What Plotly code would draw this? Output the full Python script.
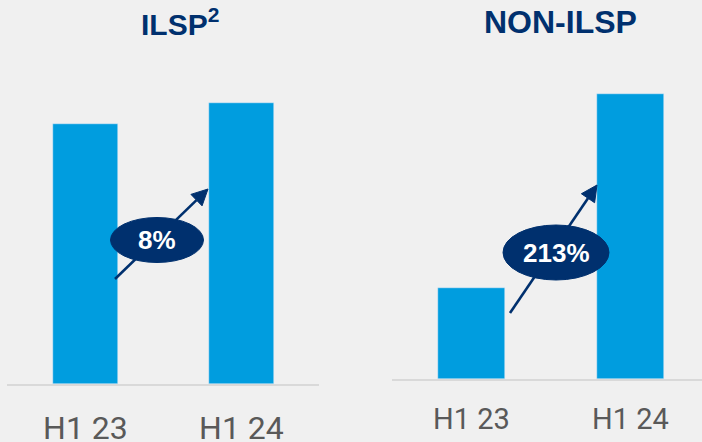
import plotly.graph_objects as go

W, H = 702, 442

# ---- data ----
periods = ["H1 23", "H1 24"]
ilsp_values = [100, 108]        # indexed, H1 23 = 100
non_ilsp_values = [100, 313]    # indexed, H1 23 = 100
ilsp_growth = "8%"
non_ilsp_growth = "213%"
titles = ["ILSP<sup>2</sup>", "NON-ILSP"]

BLUE = "#009ddf"
NAVY = "#00306e"
BG = "#f0f0f0"
GREY_TXT = "#595959"
AXIS = "#d9d9d9"


def px(x):
    return x / W


def py(y):
    return 1 - y / H


fig = go.Figure()
fig.add_trace(go.Bar(x=[0, 1], y=ilsp_values, width=0.417, marker_color=BLUE,
                     xaxis="x", yaxis="y", hoverinfo="skip"))
fig.add_trace(go.Bar(x=[0, 1], y=non_ilsp_values, width=0.42, marker_color=BLUE,
                     xaxis="x2", yaxis="y2", hoverinfo="skip"))

common_x = dict(tickmode="array", tickvals=[0, 1], ticktext=periods, showgrid=False,
                zeroline=False, showline=True, linecolor=AXIS, linewidth=2, ticks="",
                fixedrange=True, automargin=False)
common_y = dict(visible=False, showgrid=False, zeroline=False, fixedrange=True,
                automargin=False)

fig.update_layout(
    width=W, height=H, margin=dict(l=0, r=0, t=0, b=0),
    paper_bgcolor=BG, plot_bgcolor=BG, showlegend=False, bargap=0,
    xaxis=dict(domain=[px(7), px(319)], range=[-0.503, 1.497],
               tickfont=dict(family="Roboto", size=32, color=GREY_TXT),
               ticklabelstandoff=15, **common_x),
    yaxis=dict(domain=[py(384), py(60)], range=[0, 124.6], **common_y),
    xaxis2=dict(domain=[px(392), px(702)], range=[-0.5, 1.45], anchor="y2",
                tickfont=dict(family="Roboto", size=29, color=GREY_TXT),
                ticklabelstandoff=13, **common_x),
    yaxis2=dict(domain=[py(379), py(60)], range=[0, 350.5], anchor="x2", **common_y),
)

# ---- growth arrows with ellipse badges ----
def arrow(tail, tip, head_len=16, head_half=8):
    (x0, y0), (x1, y1) = tail, tip
    dx, dy = x1 - x0, y1 - y0
    L = (dx * dx + dy * dy) ** 0.5
    ux, uy = dx / L, dy / L
    bx, by = x1 - ux * head_len, y1 - uy * head_len
    nx, ny = -uy, ux
    fig.add_shape(type="line", xref="paper", yref="paper",
                  x0=px(x0), y0=py(y0), x1=px(bx), y1=py(by),
                  line=dict(color=NAVY, width=2.6))
    pts = [(x1, y1), (bx + nx * head_half, by + ny * head_half),
           (bx - nx * head_half, by - ny * head_half)]
    path = "M " + " L ".join(f"{px(a):.5f},{py(b):.5f}" for a, b in pts) + " Z"
    fig.add_shape(type="path", xref="paper", yref="paper", path=path,
                  fillcolor=NAVY, line=dict(color=NAVY, width=1))


def badge(cx, cy, w, h, text):
    fig.add_shape(type="circle", xref="paper", yref="paper",
                  x0=px(cx - w / 2), x1=px(cx + w / 2),
                  y0=py(cy + h / 2), y1=py(cy - h / 2),
                  fillcolor=NAVY, line=dict(color=NAVY, width=1))
    fig.add_annotation(x=px(cx), y=py(cy), xref="paper", yref="paper", text=text,
                       showarrow=False, xanchor="center", yanchor="middle",
                       font=dict(family="Liberation Sans, Arial", size=26,
                                 color="white", weight=700))


arrow((115, 279), (208, 189))
badge(157, 240, 93, 45, ilsp_growth)
arrow((510, 313), (597, 185))
badge(556, 252.5, 106, 55, non_ilsp_growth)

# ---- panel titles ----
fig.add_annotation(x=px(180), y=py(22), xref="paper", yref="paper", text=titles[0],
                   showarrow=False, xanchor="center", yanchor="middle",
                   font=dict(family="Liberation Sans, Arial", size=30, color=NAVY, weight=700))
fig.add_annotation(x=px(560), y=py(22), xref="paper", yref="paper", text=titles[1],
                   showarrow=False, xanchor="center", yanchor="middle",
                   font=dict(family="Liberation Sans, Arial", size=32, color=NAVY, weight=700))

fig.write_html("out.html", config={"displayModeBar": False},
               post_script="document.body.style.margin='0';"
                           "document.body.style.background='#f0f0f0';")
